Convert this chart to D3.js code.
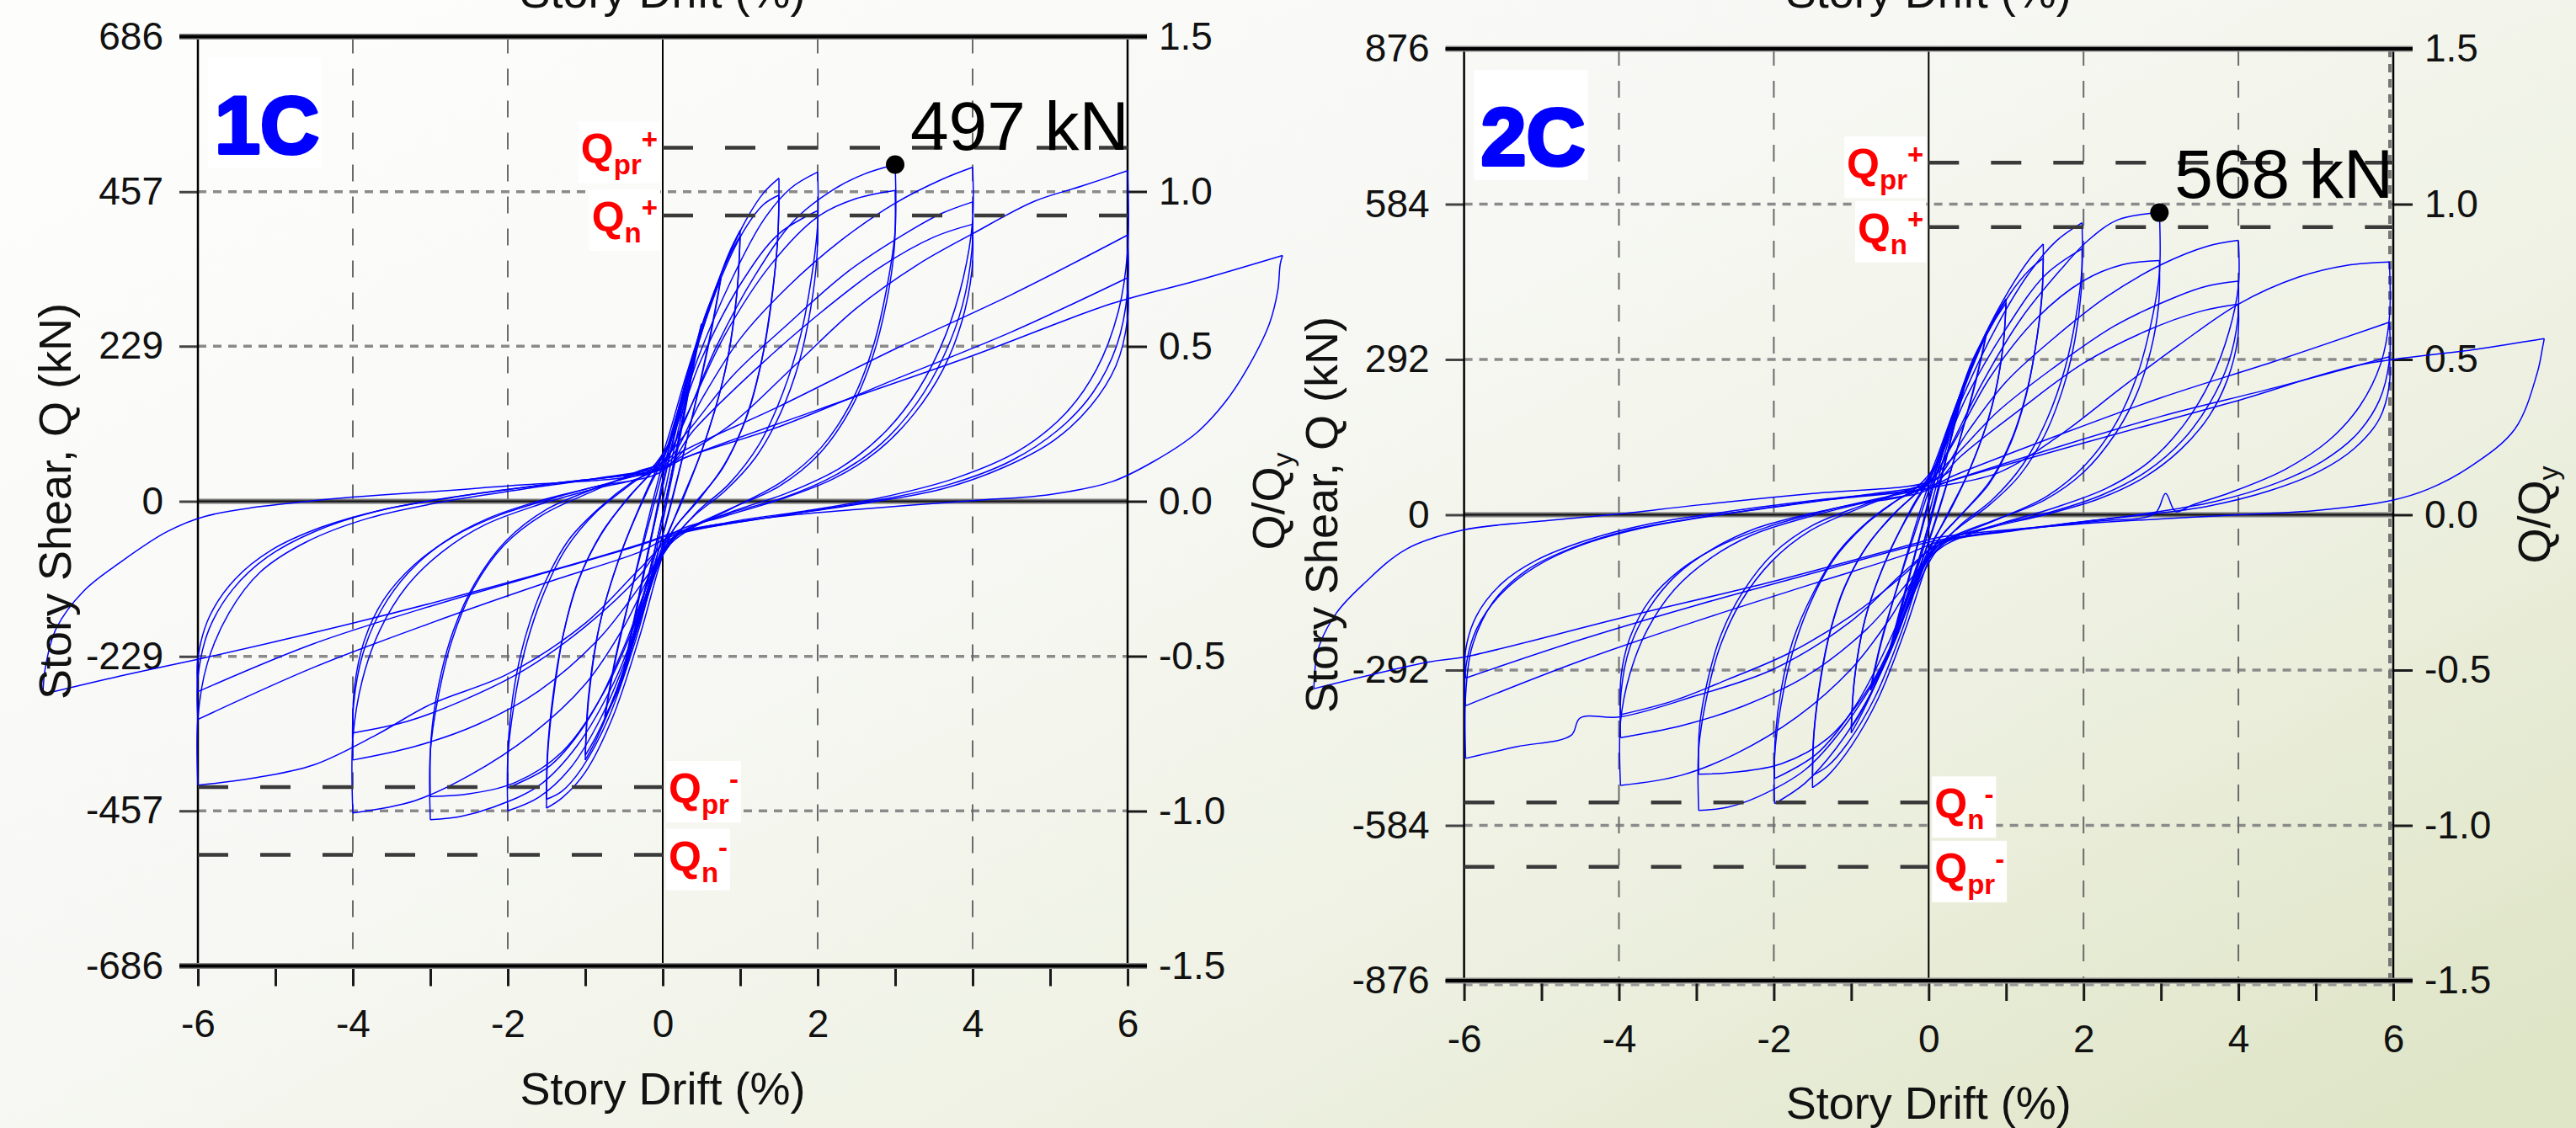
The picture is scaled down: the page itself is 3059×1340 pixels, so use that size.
<!DOCTYPE html>
<html>
<head>
<meta charset="utf-8">
<script src="https://cdn.jsdelivr.net/npm/d3@7"></script>
<style>
  html, body { margin: 0; padding: 0; }
  body { width: 3059px; height: 1340px; overflow: hidden; }
</style>
</head>
<body>
<svg id="chart" width="3059" height="1340"></svg>
<script>
// ---------- axis ticks ----------
const driftTicks = [-6, -4, -2, 0, 2, 4, 6];
const driftMinorTicks = [-6, -5, -4, -3, -2, -1, 0, 1, 2, 3, 4, 5, 6];
const ratioTicks = [-1.5, -1.0, -0.5, 0.0, 0.5, 1.0, 1.5];
const shearTicks1C = [-686, -457, -229, 0, 229, 457, 686];
const shearTicks2C = [-876, -584, -292, 0, 292, 584, 876];

// ---------- reference strengths (kN) ----------
const refLines1C = [
  { name: "pr", sign: "+", value: 522 },
  { name: "n",  sign: "+", value: 422 },
  { name: "pr", sign: "-", value: -422 },
  { name: "n",  sign: "-", value: -522 }
];
const refLines2C = [
  { name: "pr", sign: "+", value: 662 },
  { name: "n",  sign: "+", value: 541 },
  { name: "n",  sign: "-", value: -541 },
  { name: "pr", sign: "-", value: -662 }
];

// ---------- peak story shear [drift %, kN] ----------
const peak1C = [3.0, 497];
const peak2C = [2.98, 568];

// ---------- hysteresis history, one branch per reversal [drift %, shear kN] ----------
const branches1C = [
  [[0,0],[0.2,105],[0.375,190]],
  [[0.375,190],[0.3,140],[0.1,25],[-0.1,-80],[-0.375,-185]],
  [[-0.375,-185],[-0.3,-135],[-0.1,-25],[0.1,85],[0.3,160],[0.5,258]],
  [[0.5,258],[0.4,200],[0.15,60],[-0.1,-70],[-0.3,-160],[-0.5,-250]],
  [[-0.5,-250],[-0.4,-190],[-0.15,-55],[0.1,75],[0.3,170],[0.5,262]],
  [[0.5,262],[0.38,195],[0.12,45],[-0.12,-80],[-0.3,-165],[-0.5,-245]],
  [[-0.5,-245],[-0.38,-185],[-0.12,-40],[0.15,95],[0.45,230],[0.75,330]],
  [[0.75,330],[0.62,250],[0.35,110],[0.05,-30],[-0.3,-170],[-0.55,-270],[-0.75,-322]],
  [[-0.75,-322],[-0.62,-240],[-0.35,-105],[-0.05,35],[0.3,175],[0.55,275],[0.75,328]],
  [[0.75,328],[0.6,235],[0.32,95],[0.02,-40],[-0.3,-175],[-0.55,-272],[-0.75,-318]],
  [[-0.75,-318],[-0.6,-225],[-0.3,-85],[0,45],[0.3,170],[0.6,285],[0.85,365],[1,400]],
  [[1,400],[0.96,310],[0.82,200],[0.55,90],[0.25,0],[0,-65],[-0.3,-175],[-0.6,-280],[-0.85,-350],[-1,-382]],
  [[-1,-382],[-0.96,-290],[-0.82,-185],[-0.55,-80],[-0.25,5],[0,70],[0.3,185],[0.6,290],[0.85,360],[1,392]],
  [[1,392],[0.95,300],[0.8,190],[0.52,80],[0.22,-5],[0,-70],[-0.3,-180],[-0.6,-280],[-0.85,-345],[-1,-375]],
  [[-1,-375],[-0.95,-285],[-0.8,-175],[-0.5,-65],[-0.2,15],[0.05,75],[0.35,200],[0.7,320],[1.05,410],[1.3,455],[1.5,477]],
  [[1.5,477],[1.49,400],[1.42,310],[1.3,220],[1.1,130],[0.8,55],[0.45,0],[0.15,-40],[0,-80],[-0.3,-200],[-0.65,-320],[-1.0,-400],[-1.3,-438],[-1.5,-453]],
  [[-1.5,-453],[-1.49,-375],[-1.42,-290],[-1.3,-205],[-1.1,-120],[-0.8,-50],[-0.45,5],[-0.15,42],[0.05,75],[0.35,195],[0.7,315],[1.05,400],[1.3,438],[1.5,452]],
  [[1.5,452],[1.48,380],[1.4,295],[1.28,210],[1.08,125],[0.78,50],[0.42,-2],[0.12,-45],[-0.05,-85],[-0.35,-205],[-0.7,-320],[-1.05,-395],[-1.3,-428],[-1.5,-440]],
  [[-1.5,-440],[-1.48,-365],[-1.4,-280],[-1.28,-195],[-1.08,-115],[-0.78,-45],[-0.42,8],[-0.12,48],[0.1,90],[0.45,210],[0.9,330],[1.3,415],[1.65,462],[2,486]],
  [[2,486],[2,410],[1.92,330],[1.78,245],[1.55,160],[1.25,85],[0.85,25],[0.45,-15],[0.15,-55],[-0.1,-100],[-0.4,-210],[-0.8,-320],[-1.2,-395],[-1.6,-437],[-2,-457]],
  [[-2,-457],[-2,-380],[-1.92,-300],[-1.78,-220],[-1.55,-140],[-1.25,-70],[-0.85,-15],[-0.45,22],[-0.15,48],[0.1,90],[0.5,210],[1.0,320],[1.5,395],[2,429]],
  [[2,429],[1.99,360],[1.91,285],[1.76,205],[1.52,130],[1.2,65],[0.8,15],[0.4,-22],[0.1,-60],[-0.15,-110],[-0.5,-215],[-0.95,-320],[-1.45,-390],[-2,-423]],
  [[-2,-423],[-1.99,-350],[-1.91,-270],[-1.76,-195],[-1.52,-120],[-1.2,-55],[-0.8,-8],[-0.4,28],[0,55],[0.25,110],[0.7,230],[1.2,335],[1.7,415],[2.2,460],[2.6,483],[3,497]],
  [[3,497],[3,400],[2.9,320],[2.72,230],[2.45,150],[2.05,80],[1.55,30],[0.9,-10],[0.3,-45],[0.05,-70],[-0.2,-140],[-0.6,-260],[-1.1,-360],[-1.6,-420],[-2.2,-452],[-2.6,-465],[-3,-470]],
  [[-3,-470],[-3,-370],[-2.9,-290],[-2.72,-205],[-2.45,-130],[-2.05,-65],[-1.55,-20],[-0.9,15],[-0.3,45],[0,58],[0.3,125],[0.8,245],[1.4,350],[2.0,420],[2.5,447],[3,459]],
  [[3,459],[2.99,375],[2.89,295],[2.7,210],[2.42,135],[2.02,70],[1.5,22],[0.85,-12],[0.25,-45],[0.05,-65],[-0.3,-165],[-0.75,-280],[-1.3,-370],[-1.9,-415],[-2.5,-432],[-3,-436]],
  [[-3,-436],[-2.99,-350],[-2.89,-270],[-2.7,-190],[-2.42,-120],[-2.02,-58],[-1.5,-12],[-0.85,20],[-0.25,45],[0.1,65],[0.5,150],[1.0,240],[1.6,315],[2.3,385],[3.0,440],[3.6,475],[4,493]],
  [[4,493],[4,415],[3.88,330],[3.65,245],[3.3,165],[2.85,100],[2.3,50],[1.6,12],[0.9,-15],[0.2,-50],[-0.1,-95],[-0.5,-185],[-1.0,-270],[-1.7,-345],[-2.5,-405],[-3.2,-442],[-4,-460]],
  [[-4,-460],[-4,-350],[-3.88,-265],[-3.65,-190],[-3.3,-125],[-2.85,-75],[-2.3,-35],[-1.6,-5],[-0.9,18],[-0.2,40],[0.3,100],[0.9,185],[1.6,260],[2.4,340],[3.2,400],[3.6,425],[4,442]],
  [[4,442],[3.99,370],[3.87,290],[3.63,215],[3.28,145],[2.82,85],[2.25,40],[1.55,5],[0.85,-18],[0.15,-52],[-0.2,-110],[-0.8,-200],[-1.6,-280],[-2.4,-330],[-3.2,-362],[-4,-382]],
  [[-4,-382],[-3.99,-300],[-3.87,-225],[-3.63,-160],[-3.28,-105],[-2.82,-60],[-2.25,-25],[-1.55,2],[-0.85,22],[0,45],[0.4,105],[1.2,195],[2.0,275],[2.8,345],[3.5,390],[4,409]],
  [[4,409],[3.99,340],[3.86,265],[3.62,195],[3.25,130],[2.78,75],[2.2,33],[1.5,2],[0.8,-22],[0.1,-50],[-0.3,-110],[-1.0,-185],[-1.8,-250],[-2.6,-295],[-3.3,-325],[-4,-342]],
  [[-4,-342],[-3.98,-275],[-3.85,-205],[-3.6,-145],[-3.22,-95],[-2.7,-52],[-2.1,-20],[-1.4,5],[-0.6,30],[0,50],[0.3,70],[0.9,115],[1.7,200],[2.5,285],[3.3,350],[4.0,395],[4.8,443],[5.4,465],[6,488]],
  [[6,488],[6,370],[5.88,280],[5.6,195],[5.2,130],[4.6,75],[3.8,35],[2.8,5],[1.8,-15],[0.9,-30],[0.15,-52],[-0.3,-100],[-1.0,-180],[-2.0,-255],[-3.0,-300],[-3.7,-345],[-4.5,-389],[-5.3,-409],[-6,-419]],
  [[-6,-419],[-6,-320],[-5.88,-240],[-5.6,-165],[-5.2,-105],[-4.6,-60],[-3.8,-25],[-2.8,0],[-1.8,18],[-0.9,33],[0,52],[0.2,70],[1.5,140],[3,225],[4.5,305],[6,393]],
  [[6,393],[6,310],[5.86,230],[5.55,160],[5.1,105],[4.5,60],[3.7,25],[2.7,0],[1.6,-20],[0.15,-50],[-0.3,-75],[-1.5,-120],[-3,-180],[-4.5,-245],[-6,-322]],
  [[-6,-322],[-6,-260],[-5.86,-190],[-5.55,-130],[-5.1,-82],[-4.5,-45],[-3.7,-15],[-2.7,6],[-1.5,25],[0,48],[0.3,65],[1.5,110],[3,180],[4.5,250],[6,330]],
  [[6,330],[6,270],[5.85,200],[5.52,140],[5.05,90],[4.4,50],[3.6,18],[2.6,-3],[1.3,-25],[0.15,-48],[-0.3,-65],[-1.5,-105],[-3,-155],[-4.5,-210],[-6,-281]],
  [[-6,-281],[-6,-232],[-5.85,-170],[-5.52,-115],[-5.05,-72],[-4.4,-38],[-3.6,-12],[-2.6,8],[-1.3,28],[0,47],[0.2,60],[2,135],[4,215],[5.8,292],[6.9,326],[8,363]],
  [[8,363],[7.97,350],[7.94,312],[7.83,262],[7.54,195],[7.25,145],[6.89,101],[6.34,59],[5.8,29],[5.0,10],[4.0,1],[2.5,-12],[1.3,-25],[0.15,-46],[-0.2,-60],[-2,-120],[-4,-180],[-5.95,-232],[-7,-258],[-8,-285]],
  [[-8,-285],[-7.97,-246],[-7.83,-188],[-7.47,-132],[-7.0,-90],[-6.4,-45],[-5.9,-22],[-4.5,1],[-2.2,21],[0,48],[0.3,80]]
];

const branches2C = [
  [[0,0],[0.2,110],[0.375,200]],
  [[0.375,200],[0.3,150],[0.1,30],[-0.1,-80],[-0.375,-195]],
  [[-0.375,-195],[-0.3,-145],[-0.1,-30],[0.1,85],[0.3,170],[0.5,262]],
  [[0.5,262],[0.4,205],[0.15,65],[-0.1,-70],[-0.3,-160],[-0.5,-255]],
  [[-0.5,-255],[-0.4,-195],[-0.15,-60],[0.1,75],[0.3,170],[0.5,265]],
  [[0.5,265],[0.38,198],[0.12,48],[-0.12,-82],[-0.3,-168],[-0.5,-250]],
  [[-0.5,-250],[-0.38,-190],[-0.12,-45],[0.15,100],[0.45,245],[0.75,345]],
  [[0.75,345],[0.62,260],[0.35,115],[0.05,-30],[-0.3,-170],[-0.55,-270],[-0.75,-330]],
  [[-0.75,-330],[-0.62,-245],[-0.35,-108],[-0.05,35],[0.3,180],[0.55,285],[0.75,342]],
  [[0.75,342],[0.6,245],[0.32,100],[0.02,-40],[-0.3,-178],[-0.55,-275],[-0.75,-325]],
  [[-0.75,-325],[-0.6,-230],[-0.3,-88],[0,45],[0.3,175],[0.6,290],[0.85,370],[1,406]],
  [[1,406],[0.96,315],[0.82,205],[0.55,92],[0.25,0],[0,-65],[-0.3,-180],[-0.6,-290],[-0.85,-370],[-1,-410]],
  [[-1,-410],[-0.96,-310],[-0.82,-195],[-0.55,-85],[-0.25,5],[0,70],[0.3,185],[0.6,295],[0.85,365],[1,398]],
  [[1,398],[0.95,305],[0.8,195],[0.52,82],[0.22,-5],[0,-70],[-0.3,-185],[-0.6,-290],[-0.85,-365],[-1,-400]],
  [[-1,-400],[-0.95,-300],[-0.8,-185],[-0.5,-68],[-0.2,15],[0.05,78],[0.35,205],[0.7,330],[1.05,425],[1.3,480],[1.48,509]],
  [[1.48,509],[1.47,430],[1.4,335],[1.28,240],[1.08,145],[0.8,65],[0.45,5],[0.15,-42],[0,-85],[-0.3,-215],[-0.65,-345],[-1.0,-435],[-1.3,-490],[-1.5,-513]],
  [[-1.5,-513],[-1.49,-425],[-1.42,-330],[-1.3,-235],[-1.1,-140],[-0.8,-60],[-0.45,2],[-0.15,42],[0.05,78],[0.35,200],[0.7,325],[1.05,415],[1.3,460],[1.48,482]],
  [[1.48,482],[1.46,405],[1.38,315],[1.26,225],[1.06,135],[0.78,58],[0.42,0],[0.12,-48],[-0.05,-90],[-0.35,-220],[-0.7,-345],[-1.05,-430],[-1.3,-472],[-1.5,-490]],
  [[-1.5,-490],[-1.48,-410],[-1.4,-315],[-1.28,-225],[-1.08,-135],[-0.78,-55],[-0.42,5],[-0.12,48],[0.1,95],[0.45,225],[0.9,360],[1.3,455],[1.65,515],[1.98,549]],
  [[1.98,549],[1.98,465],[1.9,370],[1.76,275],[1.53,180],[1.22,95],[0.82,28],[0.42,-18],[0.15,-58],[-0.1,-105],[-0.4,-225],[-0.8,-350],[-1.2,-440],[-1.6,-505],[-1.99,-543]],
  [[-1.99,-543],[-1.99,-455],[-1.91,-360],[-1.77,-265],[-1.54,-170],[-1.23,-85],[-0.83,-20],[-0.43,25],[-0.15,52],[0.1,95],[0.5,225],[1.0,350],[1.5,450],[1.98,500]],
  [[1.98,500],[1.97,420],[1.89,330],[1.74,240],[1.5,150],[1.18,75],[0.78,18],[0.38,-25],[0.1,-62],[-0.15,-115],[-0.5,-235],[-0.95,-360],[-1.45,-450],[-1.99,-496]],
  [[-1.99,-496],[-1.98,-415],[-1.9,-325],[-1.75,-235],[-1.5,-150],[-1.18,-72],[-0.78,-12],[-0.38,30],[0,58],[0.25,120],[0.7,250],[1.2,370],[1.7,460],[2.06,516],[2.45,555],[2.98,568]],
  [[2.98,568],[2.98,455],[2.88,365],[2.7,265],[2.43,175],[2.03,95],[1.53,35],[0.9,-8],[0.3,-45],[0.1,-68],[-0.2,-150],[-0.6,-285],[-1.1,-400],[-1.6,-480],[-2.2,-530],[-2.6,-550],[-2.97,-556]],
  [[-2.97,-556],[-2.97,-440],[-2.87,-345],[-2.7,-250],[-2.43,-165],[-2.03,-88],[-1.53,-30],[-0.9,12],[-0.3,45],[0,60],[0.3,130],[0.8,260],[1.4,370],[2.0,440],[2.5,470],[2.98,478]],
  [[2.98,478],[2.97,395],[2.87,310],[2.68,225],[2.4,150],[2.0,80],[1.5,28],[0.85,-10],[0.25,-45],[0.05,-68],[-0.3,-185],[-0.75,-320],[-1.3,-420],[-1.9,-468],[-2.5,-484],[-2.97,-488]],
  [[-2.97,-488],[-2.96,-400],[-2.86,-315],[-2.68,-225],[-2.4,-145],[-2.0,-72],[-1.5,-20],[-0.85,18],[-0.25,48],[0.1,68],[0.5,155],[1.0,250],[1.6,330],[2.3,410],[3.0,470],[3.6,505],[4,516]],
  [[4,516],[4,430],[3.88,345],[3.65,255],[3.3,170],[2.85,100],[2.3,50],[1.6,12],[0.9,-18],[0.2,-58],[-0.1,-100],[-0.5,-195],[-1.0,-290],[-1.7,-380],[-2.5,-450],[-3.2,-490],[-3.98,-509]],
  [[-3.98,-509],[-3.98,-390],[-3.86,-300],[-3.63,-215],[-3.28,-140],[-2.82,-82],[-2.28,-38],[-1.6,-6],[-0.9,20],[-0.2,42],[0.3,105],[0.9,195],[1.6,275],[2.4,355],[3.2,410],[3.6,430],[4,439]],
  [[4,439],[3.99,365],[3.87,285],[3.63,210],[3.28,140],[2.82,82],[2.25,38],[1.55,4],[0.85,-20],[0.15,-55],[-0.2,-115],[-0.8,-215],[-1.6,-305],[-2.4,-360],[-3.2,-397],[-3.98,-419]],
  [[-3.98,-419],[-3.97,-330],[-3.86,-250],[-3.62,-178],[-3.27,-115],[-2.8,-65],[-2.22,-25],[-1.5,3],[-0.7,27],[0,48],[0.4,108],[1.2,200],[2.0,285],[2.8,345],[3.5,382],[4,396]],
  [[4,396],[3.99,330],[3.86,255],[3.62,185],[3.25,122],[2.78,70],[2.2,30],[1.5,0],[0.8,-24],[0.1,-55],[-0.3,-110],[-1.0,-190],[-1.8,-260],[-2.6,-310],[-3.3,-350],[-3.98,-376]],
  [[-3.98,-376],[-3.97,-300],[-3.85,-228],[-3.6,-160],[-3.22,-105],[-2.72,-60],[-2.1,-24],[-1.4,5],[-0.6,32],[0.12,53],[0.9,79],[1.67,147],[2.5,240],[3.23,319],[4.0,396],[4.78,447],[5.4,469],[5.95,475]],
  [[5.95,475],[5.95,370],[5.84,285],[5.57,205],[5.17,140],[4.6,85],[3.9,42],[3.4,18],[3.19,6],[3.06,40],[2.92,2],[2.2,-12],[1.1,-30],[0.15,-55],[-0.3,-105],[-1.0,-200],[-2.0,-290],[-3.0,-340],[-3.98,-380],[-4.5,-382],[-4.62,-415],[-5.32,-436],[-5.98,-458]],
  [[-5.98,-458],[-5.98,-340],[-5.9,-250],[-5.63,-165],[-5.2,-105],[-4.6,-62],[-3.9,-30],[-3.0,-6],[-1.8,18],[-0.8,38],[0.1,58],[0.3,72],[1.5,140],[3,220],[4.5,290],[5.95,362]],
  [[5.95,362],[5.95,290],[5.82,215],[5.52,150],[5.08,100],[4.5,60],[3.7,25],[2.7,0],[1.6,-20],[0.15,-50],[-0.3,-75],[-1.5,-130],[-3,-200],[-4.5,-275],[-5.98,-359]],
  [[-5.98,-359],[-5.98,-290],[-5.84,-215],[-5.53,-150],[-5.08,-98],[-4.5,-58],[-3.7,-25],[-2.7,0],[-1.5,25],[0,50],[0.3,65],[1.5,120],[3,185],[4.5,240],[5.95,297]],
  [[5.95,297],[5.95,245],[5.82,180],[5.5,125],[5.05,82],[4.4,45],[3.6,16],[2.6,-3],[1.3,-25],[0.15,-47],[-0.3,-62],[-1.5,-110],[-3,-170],[-4.5,-235],[-5.98,-307]],
  [[-5.98,-307],[-5.98,-255],[-5.84,-190],[-5.52,-130],[-5.06,-85],[-4.4,-47],[-3.6,-17],[-2.6,6],[-1.3,30],[0,50],[0.2,60],[2,135],[4,215],[5.54,281],[7.07,311],[7.95,331]],
  [[7.95,331],[7.93,316],[7.86,267],[7.57,161],[6.99,90],[6.45,48],[5.98,27],[5.0,8],[4.0,0],[2.5,-12],[1.3,-25],[0.15,-42],[-0.2,-55],[-2,-125],[-4,-195],[-5.98,-267],[-6.46,-277],[-7.94,-327]],
  [[-7.94,-327],[-7.93,-300],[-7.89,-255],[-7.65,-185],[-7.29,-129],[-6.75,-65],[-6.02,-29],[-5,-12],[-4,1.5],[-3,18],[-1.5,40],[0,61],[0.3,85]]
];

// ---------- drawing ----------
const FONT = "'Liberation Sans', Arial, Helvetica, sans-serif";
const svg = d3.select("#chart");

// slide background
const defs = svg.append("defs");
const grad = defs.append("linearGradient").attr("id", "bg")
  .attr("x1", 0).attr("y1", 0.1).attr("x2", 1).attr("y2", 0.9);
grad.append("stop").attr("offset", "0%").attr("stop-color", "#fdfdfc");
grad.append("stop").attr("offset", "40%").attr("stop-color", "#f7f8f4");
grad.append("stop").attr("offset", "70%").attr("stop-color", "#eef1e2");
grad.append("stop").attr("offset", "100%").attr("stop-color", "#dfe5c7");
svg.append("rect").attr("width", 3059).attr("height", 1340).attr("fill", "url(#bg)");

function drawPanel(p) {
  const x = d3.scaleLinear()
    .domain([driftTicks[0], driftTicks[driftTicks.length - 1]])
    .range([p.x0, p.x1]);
  const yMax = d3.max(p.shearTicks);
  const y = d3.scaleLinear().domain([-yMax, yMax]).range([p.y1, p.y0]);
  const yr = d3.scaleLinear()
    .domain([ratioTicks[0], ratioTicks[ratioTicks.length - 1]])
    .range([p.y1, p.y0]);

  const g = svg.append("g").attr("font-family", FONT);

  // dotted horizontal grid at the shear ticks
  g.append("g").selectAll("line")
    .data(p.shearTicks.filter(v => v !== 0 && Math.abs(v) !== yMax))
    .join("line")
    .attr("x1", p.x0).attr("x2", p.x1)
    .attr("y1", d => y(d)).attr("y2", d => y(d))
    .attr("stroke", "#8a8a8a").attr("stroke-width", 3.5)
    .attr("stroke-dasharray", "10,8");

  // dashed vertical grid at the drift ticks
  g.append("g").selectAll("line")
    .data(driftTicks.filter(v => v !== 0 && Math.abs(v) !== 6))
    .join("line")
    .attr("x1", d => x(d)).attr("x2", d => x(d))
    .attr("y1", p.y0).attr("y2", p.y1)
    .attr("stroke", "#6a6a6a").attr("stroke-width", 2)
    .attr("stroke-dasharray", "20,18");

  if (p.edgeGrid) {
    g.append("line")
      .attr("x1", p.x1 - 4).attr("x2", p.x1 - 4).attr("y1", p.y0).attr("y2", p.y1)
      .attr("stroke", "#777").attr("stroke-width", 4).attr("stroke-dasharray", "10,8");
    g.append("line")
      .attr("x1", p.x0).attr("x2", p.x1).attr("y1", p.y1 + 5).attr("y2", p.y1 + 5)
      .attr("stroke", "#999").attr("stroke-width", 3).attr("stroke-dasharray", "10,8");
  }

  // zero shear line
  g.append("line").attr("x1", p.x0).attr("x2", p.x1).attr("y1", y(0)).attr("y2", y(0))
    .attr("stroke", "#777").attr("stroke-width", 6);
  g.append("line").attr("x1", p.x0).attr("x2", p.x1).attr("y1", y(0)).attr("y2", y(0))
    .attr("stroke", "#111").attr("stroke-width", 2);
  // zero drift line
  g.append("line").attr("x1", x(0)).attr("x2", x(0)).attr("y1", p.y0).attr("y2", p.y1)
    .attr("stroke", "#000").attr("stroke-width", 2);

  // axes
  const axL = d3.axisLeft(y).tickValues(p.shearTicks).tickSize(22).tickSizeOuter(0)
    .tickPadding(19).tickFormat(d => String(d));
  const gl = g.append("g").attr("transform", `translate(${p.x0},0)`).call(axL);
  const axR = d3.axisRight(yr).tickValues(ratioTicks).tickSize(23).tickSizeOuter(0)
    .tickPadding(14).tickFormat(d => d.toFixed(1));
  const gr = g.append("g").attr("transform", `translate(${p.x1},0)`).call(axR);
  const axB = d3.axisBottom(x).tickValues(driftMinorTicks).tickSize(24).tickSizeOuter(0)
    .tickPadding(28).tickFormat(d => driftTicks.includes(d) ? String(d) : "");
  const gb = g.append("g").attr("transform", `translate(0,${p.y1})`).call(axB);
  [gl, gr, gb].forEach(a => {
    a.attr("font-family", FONT).attr("font-size", 46);
    a.select(".domain").remove();
    a.selectAll(".tick line").attr("stroke", "#1a1a1a").attr("stroke-width", 3);
    a.selectAll(".tick text").attr("fill", "#111");
  });
  gl.selectAll(".tick line").attr("stroke", "#444");

  // frame
  g.append("line").attr("x1", p.x0).attr("x2", p.x0).attr("y1", p.y0).attr("y2", p.y1)
    .attr("stroke", "#000").attr("stroke-width", 2.5);
  g.append("line").attr("x1", p.x1).attr("x2", p.x1).attr("y1", p.y0).attr("y2", p.y1)
    .attr("stroke", "#000").attr("stroke-width", 2.5);
  [p.y0, p.y1].forEach(yy => {
    g.append("line").attr("x1", p.x0 - 22).attr("x2", p.x1 + 23).attr("y1", yy).attr("y2", yy)
      .attr("stroke", "#888").attr("stroke-width", 7);
    g.append("line").attr("x1", p.x0 - 22).attr("x2", p.x1 + 23).attr("y1", yy).attr("y2", yy)
      .attr("stroke", "#000").attr("stroke-width", 4);
  });

  // hysteresis loops
  const line = d3.line()
    .x(d => x(d[0])).y(d => y(d[1]))
    .curve(d3.curveCatmullRom.alpha(0.5));
  g.append("g").selectAll("path").data(p.branches).join("path")
    .attr("d", line)
    .attr("fill", "none")
    .attr("stroke", "#0000ff")
    .attr("stroke-width", 1.5)
    .attr("stroke-linejoin", "round");

  // reference strength lines
  g.append("g").selectAll("line").data(p.refLines).join("line")
    .attr("x1", d => d.value > 0 ? x(0) : x(-6))
    .attr("x2", d => d.value > 0 ? x(6) : x(0))
    .attr("y1", d => y(d.value)).attr("y2", d => y(d.value))
    .attr("stroke", "#3a3a3a").attr("stroke-width", 4.5)
    .attr("stroke-dasharray", "36,38");

  // peak marker and its value
  g.append("circle").attr("cx", x(p.peak[0])).attr("cy", y(p.peak[1])).attr("r", 11)
    .attr("fill", "#000");
  g.append("text")
    .attr("x", x(p.peak[0]) + 18).attr("y", y(p.peak[1]) - 18)
    .attr("font-size", 82).attr("fill", "#000")
    .text(`${p.peak[1]} kN`);

  // reference strength labels on white patches
  p.refLines.forEach(r => {
    const pos = r.value > 0;
    const lg = g.append("g");
    const box = lg.append("rect").attr("fill", "#fff");
    const t = lg.append("text")
      .attr("x", pos ? x(0) - 6 : x(0) + 7)
      .attr("y", y(r.value) + 19)
      .attr("text-anchor", pos ? "end" : "start")
      .attr("font-weight", "bold").attr("fill", "#ff0000");
    t.append("tspan").attr("font-size", 50).text("Q");
    t.append("tspan").attr("font-size", 33).attr("dy", 13).text(r.name);
    t.append("tspan").attr("font-size", 33).attr("dy", -30).text(r.sign);
    const b = t.node().getBBox();
    box.attr("x", b.x - 3).attr("y", b.y - 3).attr("width", b.width + 6).attr("height", b.height + 6);
  });

  // specimen tag
  const tagX = p.x0 + 12, tagY = p.y0 + 25;
  g.append("rect").attr("x", tagX).attr("y", tagY).attr("width", 135).attr("height", 131)
    .attr("fill", "#fff");
  g.append("text")
    .attr("x", tagX + 70).attr("y", tagY + 113)
    .attr("text-anchor", "middle")
    .attr("font-size", 97).attr("font-weight", "bold")
    .attr("fill", "#0000ff").attr("stroke", "#0000ff").attr("stroke-width", 4)
    .attr("stroke-linejoin", "round")
    .text(p.tag);

  // axis titles
  g.append("text").attr("x", x(0)).attr("y", p.y1 + 164)
    .attr("text-anchor", "middle").attr("font-size", 54).attr("fill", "#111")
    .text("Story Drift (%)");
  g.append("text").attr("x", x(0)).attr("y", 9)
    .attr("text-anchor", "middle").attr("font-size", 54).attr("fill", "#111")
    .text("Story Drift (%)");
  g.append("text")
    .attr("transform", `translate(${p.x0 - 151},${y(0)}) rotate(-90)`)
    .attr("text-anchor", "middle").attr("font-size", 54).attr("fill", "#111")
    .text("Story Shear, Q (kN)");
  const qr = g.append("text")
    .attr("transform", `translate(${p.x1 + 186},${y(0)}) rotate(-90)`)
    .attr("text-anchor", "middle").attr("font-size", 54).attr("fill", "#111");
  qr.append("tspan").text("Q/Q");
  qr.append("tspan").attr("font-size", 34).attr("dy", 10).text("y");
}

drawPanel({
  tag: "1C",
  x0: 235, x1: 1339, y0: 43.5, y1: 1147.5,
  shearTicks: shearTicks1C, refLines: refLines1C,
  peak: peak1C, branches: branches1C, edgeGrid: false
});
drawPanel({
  tag: "2C",
  x0: 1738.6, x1: 2842, y0: 58, y1: 1165,
  shearTicks: shearTicks2C, refLines: refLines2C,
  peak: peak2C, branches: branches2C, edgeGrid: true
});
</script>
</body>
</html>
